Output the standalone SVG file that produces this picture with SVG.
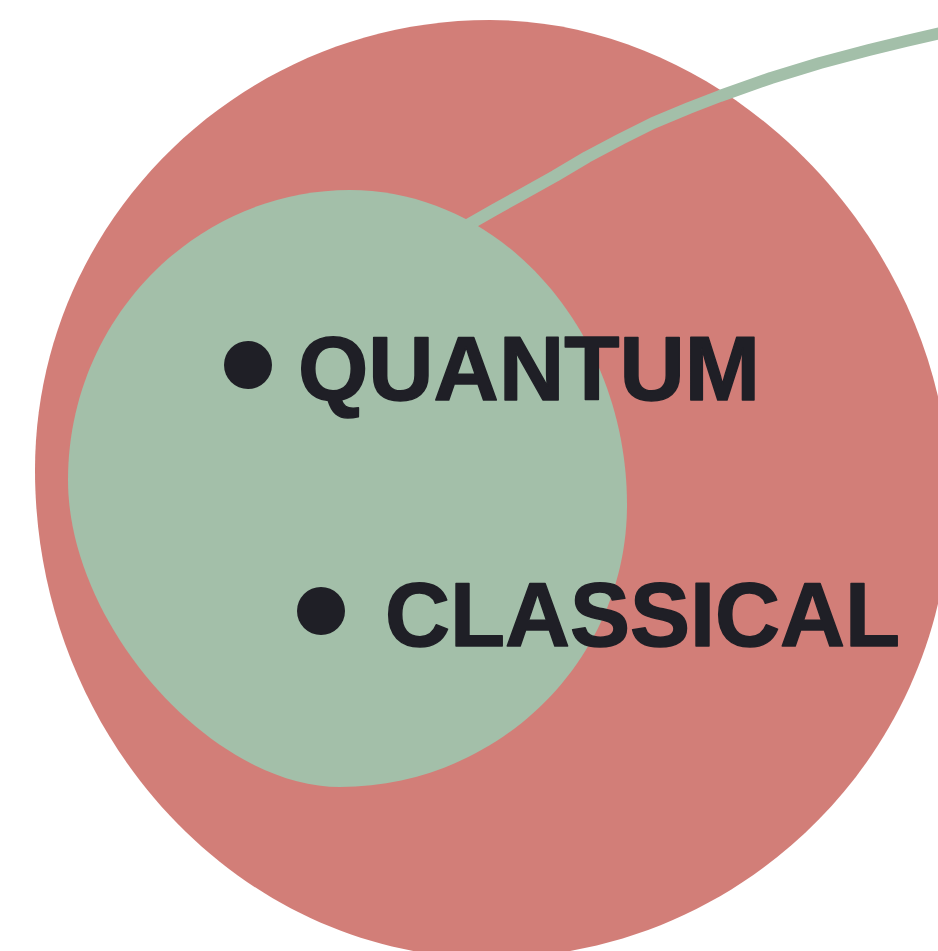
<svg xmlns="http://www.w3.org/2000/svg" width="938" height="951" viewBox="0 0 938 951">
<style>
.lbl{font-family:"Liberation Sans",Arial,sans-serif;font-weight:bold;font-size:91px;fill:#1F1F26;stroke:#1F1F26;stroke-width:1.5;stroke-linejoin:round}
.dot{fill:#1F1F26}
</style>
<rect width="938" height="951" fill="#FFFFFF"/>
<g id="classical-region">
<path fill="#D27E78" d="M490,20 C733,20 950,246 950,500 C950,752 743,958 490,958 C240,958 35,738 35,470 C35,222 240,20 490,20 Z"/>
</g>
<g id="connectors">
<path fill="none" stroke="#A3BFA9" stroke-width="12" stroke-linejoin="round" stroke-linecap="round" d="M466,226 L494,210 L521,195 L555,176 L587,157 L621,139 L653,123 L689,108 L720,96 L771,78 L820,63 L869,50 L906,41 L945,32"/>
</g>
<g id="quantum-region">
<path fill="#A3BFA9" d="M350,190 C502,190 627,332 627,505 C627,660 498,787 340,787 C212,787 68,625 68,480 C68,320 195,190 350,190 Z"/>
</g>
<g id="label-quantum">
<circle class="dot" cx="248" cy="365" r="24"/>
<text class="lbl" x="298" y="400" textLength="462" lengthAdjust="spacingAndGlyphs">QUANTUM</text>
</g>
<g id="label-classical">
<circle class="dot" cx="321" cy="611" r="24"/>
<text class="lbl" x="385" y="646" textLength="515" lengthAdjust="spacingAndGlyphs">CLASSICAL</text>
</g>
</svg>
